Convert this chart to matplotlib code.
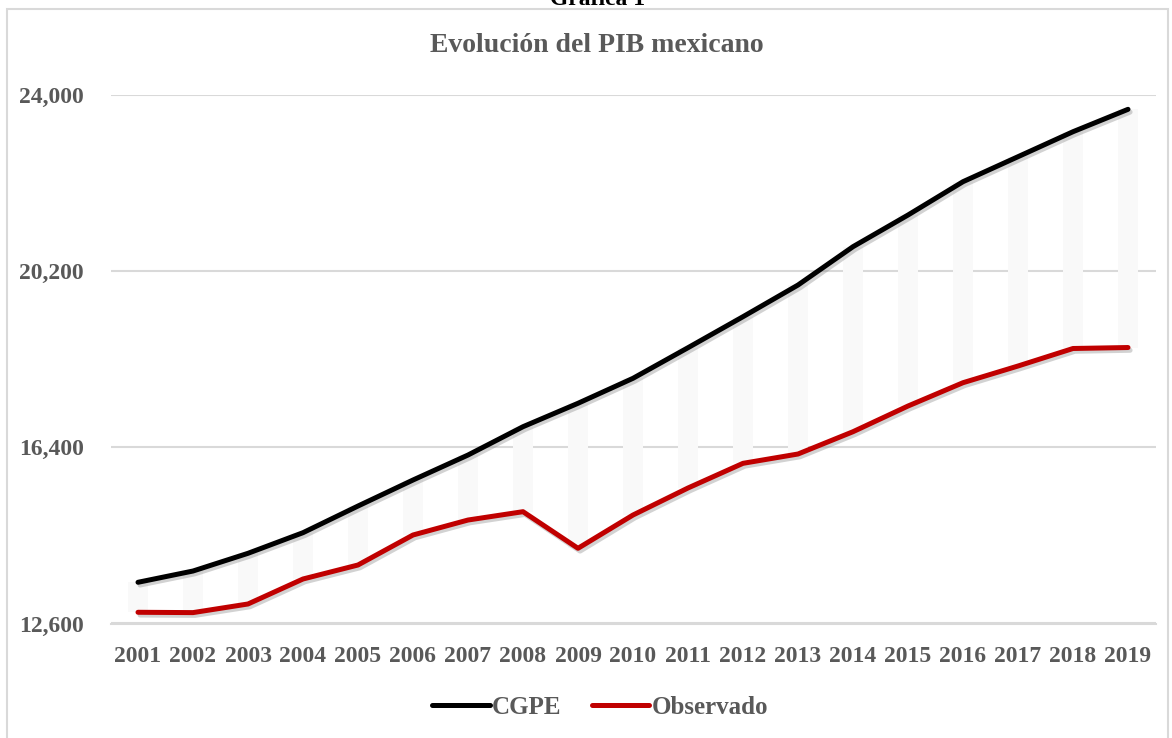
import matplotlib
matplotlib.use("Agg")
import matplotlib.pyplot as plt
import matplotlib.patheffects as pe
from matplotlib.patches import Rectangle
import numpy as np

years = ["2001", "2002", "2003", "2004", "2005", "2006", "2007", "2008", "2009", "2010",
         "2011", "2012", "2013", "2014", "2015", "2016", "2017", "2018", "2019"]
cgpe = [13489, 13732, 14114, 14559, 15134, 15695, 16234, 16845, 17350, 17889,
        18549, 19218, 19901, 20728, 21411, 22130, 22669, 23208, 23691]
observado = [12842, 12835, 13021, 13560, 13862, 14509, 14832, 15012, 14222, 14940,
             15523, 16055, 16256, 16737, 17291, 17794, 18154, 18532, 18553]
yticks = [12600, 16400, 20200, 24000]
ytick_labels = ["12,600", "16,400", "20,200", "24,000"]

W, H = 1172, 738
fig = plt.figure(figsize=(W / 100, H / 100), dpi=100)
FONT = ["Liberation Serif", "DejaVu Serif"]
GRAY = "#595959"

# chart border
fig.patches.append(Rectangle((7 / W, -0.05), (1168 - 7) / W, 1 - 9 / H + 0.05,
                             transform=fig.transFigure, fill=False,
                             edgecolor="#d9d9d9", linewidth=1.5))

fig.text(598 / W, 1 - 5 / H, "Gráfica 1", ha="center", va="baseline",
         fontsize=17, fontweight="bold", family=FONT, color="black")
fig.text(597 / W, 1 - 46 / H, "Evolución del PIB mexicano", ha="center", va="center",
         fontsize=20, fontweight="bold", family=FONT, color=GRAY)

left, right = 110.5 / W, 1155.5 / W
bottom, top = 1 - 623.5 / H, 1 - 95 / H
ax = fig.add_axes([left, bottom, right - left, top - bottom])

x = np.arange(len(years))
lo = np.minimum(cgpe, observado)
hi = np.maximum(cgpe, observado)
ax.bar(x, hi - lo, bottom=lo, width=0.36, color="#f9f9f9", edgecolor="none", zorder=1)

shadow = [pe.SimpleLineShadow(offset=(1.5, -2), shadow_color="gray", alpha=0.35), pe.Normal()]
ax.plot(x, cgpe, color="black", lw=3.6, solid_capstyle="round", solid_joinstyle="round",
        label="CGPE", zorder=3, path_effects=shadow)
ax.plot(x, observado, color="#c00000", lw=3.6, solid_capstyle="round", solid_joinstyle="round",
        label="Observado", zorder=3, path_effects=shadow)

ax.set_xlim(-0.5, len(years) - 0.5)
ax.set_ylim(12600, 24000)
ax.set_yticks(yticks)
ax.set_yticklabels(ytick_labels)
ax.set_xticks(x)
ax.set_xticklabels(years)
ax.grid(axis="y", color="#d9d9d9", lw=1.5, zorder=0)
ax.set_axisbelow(True)
for s in ["top", "right", "left"]:
    ax.spines[s].set_visible(False)
ax.spines["bottom"].set_color("#d9d9d9")
ax.spines["bottom"].set_linewidth(1.5)
ax.tick_params(axis="both", length=0, colors=GRAY)
ax.tick_params(axis="y", pad=19)
ax.tick_params(axis="x", pad=16)
for lab in ax.get_xticklabels() + ax.get_yticklabels():
    lab.set_family(FONT)
    lab.set_fontweight("bold")
    lab.set_fontsize(17)
    lab.set_color(GRAY)

handles, labels = ax.get_legend_handles_labels()
leg = fig.legend(handles, labels, loc="center", bbox_to_anchor=(600 / W, 1 - 707 / H),
                 ncol=2, frameon=False, handlelength=2.3, handletextpad=0.1,
                 columnspacing=1.2, prop={"family": FONT, "weight": "bold", "size": 18})
for t in leg.get_texts():
    t.set_color(GRAY)
for l in leg.get_lines():
    l.set_linewidth(3.6)
    l.set_path_effects([])

fig.savefig("out.png", dpi=100)
